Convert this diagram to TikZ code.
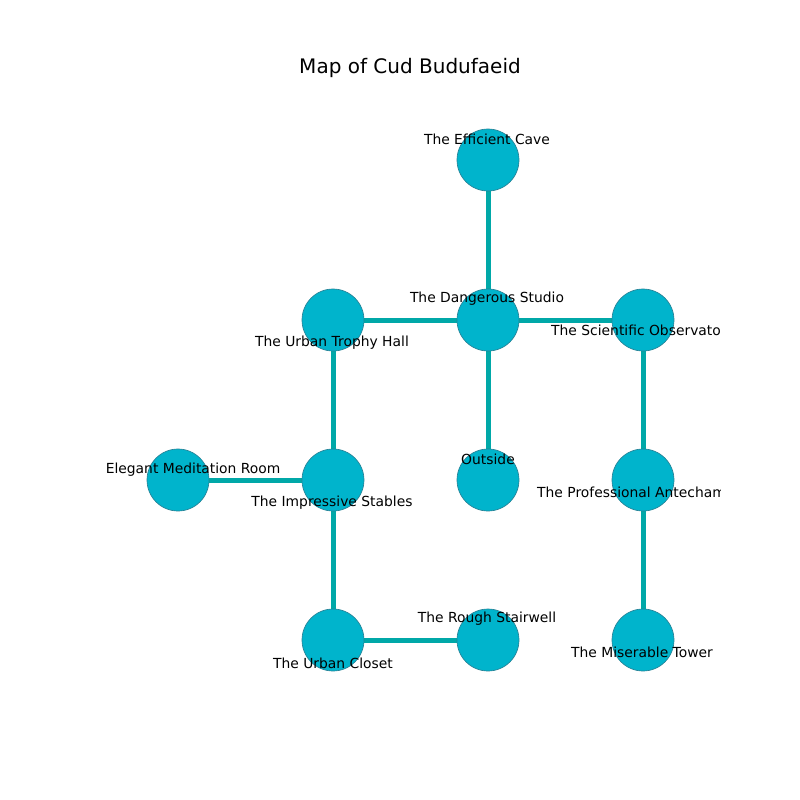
\documentclass[tikz,border=0pt]{standalone}
\usepackage{fontspec}
\setmainfont{DejaVu Sans}
\definecolor{nodefill}{RGB}{0,180,204}
\definecolor{nodeline}{RGB}{40,130,150}
\definecolor{edgecol}{RGB}{0,168,168}
\begin{document}
\begin{tikzpicture}[x=0.75pt,y=-0.75pt,
  room/.style={circle,fill=nodefill,draw=nodeline,line width=0.5pt,minimum size=46.5pt,inner sep=0pt},
  lbl/.style={font=\fontsize{10.4}{12}\selectfont,inner sep=0pt,text=black},
  link/.style={edgecol,line width=3.75pt}]
\useasboundingbox (0,0) rectangle (800,800);
\node[font=\fontsize{15}{18}\selectfont,inner sep=0pt] (title) at (410,68) {Map of Cud Budufaeid};
\begin{scope}
\clip (102,96) rectangle (720,704);
\coordinate (cave) at (488,160);
\coordinate (studio) at (488,320);
\coordinate (trophy) at (333,320);
\coordinate (obs) at (643,320);
\coordinate (eleg) at (178,480);
\coordinate (stab) at (333,480);
\coordinate (out) at (488,480);
\coordinate (ante) at (643,480);
\coordinate (closet) at (333,640);
\coordinate (stair) at (488,640);
\coordinate (tower) at (643,640);
\draw[link] (cave) -- (studio);
\draw[link] (studio) -- (trophy);
\draw[link] (studio) -- (obs);
\draw[link] (studio) -- (out);
\draw[link] (trophy) -- (stab);
\draw[link] (stab) -- (eleg);
\draw[link] (stab) -- (closet);
\draw[link] (closet) -- (stair);
\draw[link] (obs) -- (ante);
\draw[link] (ante) -- (tower);
\foreach \n in {cave,studio,trophy,obs,eleg,stab,out,ante,closet,stair,tower}
  \node[room] (n\n) at (\n) {};
\node[lbl] (lcave) at (487,139) {The Efficient Cave};
\node[lbl] (lstudio) at (487,299) {The Dangerous Studio};
\node[lbl] (ltrophy) at (332,343) {The Urban Trophy Hall};
\node[lbl] (lobs) at (643,332) {The Scientific Observatory};
\node[lbl] (leleg) at (178,470) {The Elegant Meditation Room};
\node[lbl] (lstab) at (332,503) {The Impressive Stables};
\node[lbl] (lout) at (488,459) {Outside};
\node[lbl] (lante) at (643,492) {The Professional Antechamber};
\node[lbl] (lcloset) at (333,663) {The Urban Closet};
\node[lbl] (lstair) at (487,619) {The Rough Stairwell};
\node[lbl] (ltower) at (642,652) {The Miserable Tower};
\end{scope}
\end{tikzpicture}
\end{document}
